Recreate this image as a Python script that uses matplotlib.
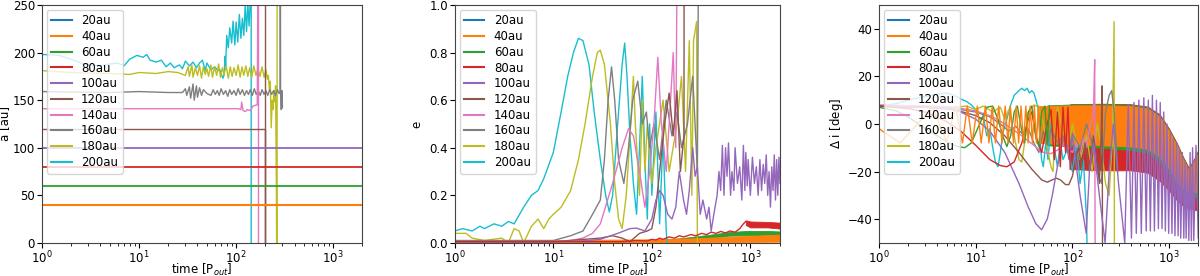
import matplotlib
matplotlib.use("Agg")
import matplotlib.pyplot as plt

labels = ["20au", "40au", "60au", "80au", "100au", "120au", "140au", "160au", "180au", "200au"]
colors = ["C0", "C1", "C2", "C3", "C4", "C5", "C6", "C7", "C8", "C9"]

# ---------------- panel 1: semi-major axis a [au] ----------------
a_t40 = [1, 2000]
a_40 = [40, 40]
a_t60 = [1, 2000]
a_60 = [60, 60]
a_t80 = [1, 2000]
a_80 = [80, 80]
a_t100 = [1, 2000]
a_100 = [100, 100]
a_t120 = [1, 200, 200, 200]
a_120 = [120, 120, -100, 400]
a_t140 = [1, 105, 112, 114, 118, 125, 130, 140, 150, 165, 170, 170]
a_140 = [141, 141, 140, 148, 139, 138, 140, 139, 144, 145, 400, -100]
a_t160 = [1, 5, 10, 20, 28, 30, 31, 33, 34, 36, 37, 39, 40, 42, 44, 46, 50, 55, 58, 61, 64, 67,
          70, 74, 78, 82, 86, 90, 95, 100, 105, 110, 116, 122, 128, 134, 140, 147, 154, 161,
          169, 177, 185, 194, 203, 212, 222, 232, 243, 254, 266, 278, 284, 285, 287, 292, 296, 300]
a_160 = [159, 158, 159, 158, 158, 162, 155, 164, 152, 167, 150, 165, 153, 163, 155, 161, 157, 155,
         161, 156, 160, 155, 162, 156, 160, 154, 161, 156, 160, 155, 162, 156, 161, 155, 160, 156,
         161, 155, 162, 156, 160, 155, 161, 156, 160, 155, 161, 156, 160, 155, 161, 157, 158, 400,
         158, 140, 160, 142]
a_t180 = [1, 2, 5, 8, 10, 15, 20, 25, 30, 32, 33, 35, 36, 38, 40, 42, 44, 46, 48, 50, 52, 55, 57,
          60, 63, 66, 69, 72, 75, 79, 83, 87, 91, 95, 100, 105, 110, 115, 120, 126, 132, 138, 145,
          152, 160, 168, 176, 185, 194, 203, 210, 215, 220, 225, 230, 235, 240, 245, 250, 255, 260,
          264, 265]
a_180 = [181, 179, 178, 177, 179, 178, 180, 179, 176, 185, 175, 187, 174, 184, 176, 186, 173, 185,
         177, 183, 175, 187, 174, 185, 176, 188, 174, 184, 177, 186, 173, 185, 175, 184, 176, 187,
         174, 185, 176, 186, 175, 184, 174, 186, 176, 183, 175, 185, 174, 182, 172, 176, 160, 170,
         121, 150, 140, 160, 148, 165, 55, -100, 400]
a_t200 = [1, 1.5, 2, 2.5, 3, 4, 5, 6, 7, 8, 9.5, 11, 12, 13, 15, 17, 19, 21, 23, 26, 28, 30, 33, 36, 39,
          42, 45, 48, 50, 55, 60, 65, 68, 73, 75, 77, 78, 80, 83, 86, 90, 93, 97, 100, 104, 108, 112,
          116, 120, 124, 128, 132, 136, 140, 143, 143]
a_200 = [198, 197, 193, 189, 187, 186, 188, 189, 186, 193, 197, 195, 198, 192, 190, 192, 185, 189, 184,
         187, 183, 191, 186, 190, 184, 189, 192, 181, 189, 182, 185, 181, 182, 173, 176, 196, 186, 218,
         205, 226, 210, 233, 208, 232, 211, 240, 215, 236, 218, 250, 222, 252, 228, 255, 400, -100]

# ---------------- panel 2: eccentricity e ----------------
e_t40 = [1, 10, 100, 300, 1000, 2000]
e_40_lo = [0.0, 0.0, 0.0, 0.002, 0.004, 0.005]
e_40_hi = [0.012, 0.012, 0.015, 0.02, 0.03, 0.035]
e_t60 = [1, 100, 200, 400, 600, 900, 1500, 2000]
e_60_lo = [0.002, 0.003, 0.01, 0.02, 0.03, 0.032, 0.03, 0.03]
e_60_hi = [0.006, 0.01, 0.02, 0.035, 0.045, 0.05, 0.05, 0.048]
e_t80 = [1, 50, 70, 90, 100, 110, 120, 130, 150, 170, 190, 210, 250, 280, 320, 360, 400, 450,
         500, 560, 620, 700, 780, 850, 900]
e_80 = [0.005, 0.005, 0.01, 0.008, 0.015, 0.012, 0.02, 0.015, 0.025, 0.02, 0.03, 0.025, 0.035,
        0.03, 0.04, 0.035, 0.045, 0.04, 0.048, 0.042, 0.05, 0.045, 0.06, 0.08, 0.09]
e_t80_band = [900, 1000, 1500, 2000]
e_80_lo = [0.075, 0.065, 0.065, 0.06]
e_80_hi = [0.095, 0.09, 0.088, 0.085]
e_t100 = [1, 10, 20, 30, 45, 60, 70, 85, 100, 110, 120, 130, 145, 160, 175, 190, 210, 225, 240,
          260, 275, 290, 310, 330, 360, 380, 400, 430, 460, 480, 500, 520, 540, 560, 580, 600,
          630, 650, 680, 700, 740, 780, 820, 850, 880, 900, 930, 950, 1000, 1050, 1100, 1150,
          1200, 1250, 1300, 1350, 1400, 1450, 1500, 1550, 1600, 1650, 1700, 1750, 1800, 1850,
          1900, 1950, 2000]
e_100 = [0.005, 0.005, 0.008, 0.015, 0.04, 0.06, 0.062, 0.05, 0.1, 0.18, 0.22, 0.2, 0.12, 0.1,
         0.15, 0.3, 0.18, 0.12, 0.22, 0.4, 0.28, 0.32, 0.12, 0.18, 0.1, 0.15, 0.05, 0.13, 0.2,
         0.3, 0.22, 0.41, 0.2, 0.4, 0.28, 0.42, 0.2, 0.3, 0.22, 0.4, 0.25, 0.32, 0.18, 0.41,
         0.22, 0.38, 0.24, 0.35, 0.2, 0.36, 0.25, 0.32, 0.2, 0.35, 0.22, 0.33, 0.25, 0.37, 0.2,
         0.3, 0.15, 0.32, 0.22, 0.37, 0.18, 0.35, 0.2, 0.36, 0.25]
e_t120 = [1, 10, 30, 40, 50, 60, 75, 90, 100, 110, 120, 135, 150, 165, 180, 195, 212, 213]
e_120 = [0.005, 0.005, 0.02, 0.03, 0.02, 0.005, 0.04, 0.05, 0.06, 0.15, 0.3, 0.5, 0.63, 0.45,
         0.64, 0.3, 0.45, 1.5]
e_t140 = [1, 10, 15, 20, 25, 30, 40, 50, 58, 65, 75, 85, 95, 105, 115, 125, 140, 155, 165, 175, 183]
e_140 = [0.005, 0.005, 0.01, 0.02, 0.04, 0.08, 0.25, 0.4, 0.48, 0.45, 0.3, 0.15, 0.3, 0.5, 0.78,
         0.5, 0.3, 0.6, 0.8, 0.4, 1.5]
e_t160 = [1, 10, 15, 20, 25, 30, 33, 36, 39, 42, 46, 52, 58, 64, 72, 80, 88, 95, 105, 120, 140,
          160, 180, 200, 230, 260, 290, 300]
e_160 = [0.01, 0.01, 0.03, 0.05, 0.12, 0.18, 0.35, 0.6, 0.74, 0.6, 0.35, 0.25, 0.4, 0.6, 0.68,
         0.5, 0.55, 0.4, 0.5, 0.35, 0.6, 0.45, 0.55, 0.4, 0.5, 0.7, 0.3, 1.5]
e_t180 = [1, 1.3, 1.5, 2, 3, 3.5, 4, 4.5, 5, 6, 7, 8, 9, 10, 12, 15, 18, 21, 25, 28, 30, 33, 38,
          42, 46, 50, 55, 60, 65, 68, 75, 80, 85, 90, 100, 110, 130, 150, 180, 200, 220, 240,
          255, 265, 285, 290]
e_180 = [0.04, 0.04, 0.02, 0.01, 0.02, 0.0, 0.06, 0.05, 0.0, 0.07, 0.1, 0.06, 0.1, 0.12, 0.15,
         0.22, 0.35, 0.5, 0.7, 0.8, 0.81, 0.75, 0.5, 0.25, 0.1, 0.06, 0.2, 0.45, 0.7, 0.5, 0.2,
         0.6, 0.3, 0.5, 0.25, 0.4, 0.6, 0.3, 0.5, 0.7, 0.3, 0.85, 0.2, 0.85, 0.93, 0.0]
e_t200 = [1, 1.2, 1.5, 1.8, 2, 2.5, 3, 3.5, 4, 5, 6, 7, 8, 10, 12, 14, 16, 18, 20, 23, 26, 30,
          34, 37, 40, 45, 50, 53, 56, 60, 65, 70, 75, 80, 85, 90, 95, 100, 110, 120, 130, 140, 143]
e_200 = [0.05, 0.06, 0.05, 0.07, 0.06, 0.08, 0.07, 0.09, 0.08, 0.15, 0.2, 0.22, 0.27, 0.38, 0.55,
         0.7, 0.8, 0.86, 0.85, 0.75, 0.55, 0.35, 0.2, 0.13, 0.2, 0.5, 0.75, 0.84, 0.7, 0.45, 0.25,
         0.12, 0.4, 0.7, 0.35, 0.1, 0.5, 0.2, 0.55, 0.08, 0.45, 0.05, 0.0]

# ---------------- panel 3: inclination change di [deg] ----------------
i_t40 = [1, 1.65, 3.6, 5.0, 6.2, 7.3, 8.2, 9.2, 10.4, 11.4, 12.6, 13.7, 14.8, 16, 17.3, 18.7,
         20.2, 21.6, 22.8, 24.6, 26.3, 27.8, 29.4, 31.3, 33, 34.9, 36.6, 38.6, 40.4, 42.5, 44.5, 46.5]
i_40 = [-2, -8, 7, -7.5, 7.5, -8, 7.5, -8, 7.5, -8, 7.5, -8, 7.5, -8, 7.5, -8, 7.5, -8, 7.5, -8,
        7.5, -8, 7.5, -8, 7.5, -8, 7.5, -8, 7.5, -8, 7.5, -8]
i_t40_band = [45, 100, 200, 400, 600, 800, 1000, 1200, 1400, 1600, 1800, 2000]
i_40_hi = [7.5, 7.8, 7.8, 7.5, 6.5, 3, -3, -9, -15, -19.5, -16, -12]
i_40_lo = [-8, -8.5, -9, -9.5, -10.5, -14, -19, -24, -27.5, -29, -28.8, -28.5]
i_t60 = [1, 1.5, 2, 3, 4, 5, 6.5, 7.7, 9, 11, 13, 15, 17, 19, 21, 23, 25, 27, 29, 32, 35, 38,
         42, 45, 48, 52, 55, 58]
i_60 = [7, 5.5, 3, -2, -5, -7.5, -9.5, -10, -8, 0, 7, 7.5, 2, -5, -9.5, -5, 5, 7.5, 0, -8, 5,
        7.5, -6, -9.5, 5, 7.5, -8, 7.5]
i_t60_band = [55, 100, 200, 400, 600, 800, 1000, 1200, 1400, 1600, 1800, 2000]
i_60_hi = [7.8, 8.2, 8.2, 8, 7, 3.5, -2.5, -8.5, -14.5, -19, -15.5, -11.5]
i_60_lo = [-9, -9.5, -10, -11, -12, -16, -21, -26, -29.5, -31, -30.8, -30.5]
i_t80 = [1, 2, 3, 5, 7, 10, 14, 18, 21, 25, 30, 35, 38, 42, 48, 55, 60, 65, 70, 75, 80, 85, 90, 95]
i_80 = [7.5, 6.5, 5, 1, -3, -9, -15, -17.5, -18, -16, -8, 2, 5, -5, -12, 0, 6, -15, 5, -18, 7,
        -12, 7, -19]
i_t80_band = [95, 200, 400, 600, 800, 1000, 1200, 1400, 1600, 1800, 2000]
i_80_hi = [8.3, 8.5, 8.3, 7.3, 4, -2, -8, -14, -18.5, -15, -11]
i_80_lo = [-19, -19.5, -19.5, -20.5, -24, -28, -32, -34.5, -35.5, -36, -36.5]
i_t100 = [1, 3, 5, 7, 10, 14, 20, 28, 35, 42, 48, 55, 62, 70, 78, 85, 92, 100, 120, 139, 150,
          165, 190, 218, 240, 265, 300, 348, 378, 408, 433, 458, 487, 516, 548, 580, 610, 640,
          672, 705, 740, 775, 810, 845, 880, 915, 950, 990, 1030, 1070, 1110, 1150, 1195, 1240,
          1280, 1320, 1370, 1420, 1460, 1500, 1550, 1600, 1650, 1700, 1750, 1800, 1900, 2000]
i_100 = [7.5, 7, 6.5, 5, 2, -3, -12, -25, -35, -42, -44.5, -40, -30, -18, -8, -5, -15, -5, -30,
         -46, -20, -8, -30, -50, -20, 0, -25, -50, 8, -48, 9, -46, 10, -46, 11, -45, 10, -45, 12,
         -45, 10, -44, 9, -44, 5, -45, 0, -46, -3, -46, -6, -47, -8, -47, -10, -48, -12, -48,
         -16, -48, -18, -49, -12, -49, -10, -49, -9, -48]
i_t120 = [1, 3, 6, 10, 14, 20, 28, 38, 48, 55, 62, 68, 75, 85, 92, 100, 107, 115, 125, 135, 150,
          165, 180, 190, 198, 203, 205]
i_120 = [7.5, 7, 6, 3.5, 0.5, -5, -12, -19, -23.5, -24.5, -23.5, -22.8, -23.5, -25.5, -25.5, -22,
         -16, -10, -18, -8, -20, -5, -15, -25, -5, 16, -60]
i_t140 = [1, 3, 6, 10, 15, 20, 30, 40, 50, 60, 70, 80, 90, 100, 110, 120, 130, 140, 150, 160,
          166, 170, 172]
i_140 = [8, 7.5, 7, 5.5, 3, 0, -5, -9, -12, -12.5, -11, -9, -10, -12, -8, -13, -6, -10, -2, 2, 8,
         27, -60]
i_t160 = [1, 3, 6, 10, 14, 18, 22, 26, 30, 35, 40, 45, 50, 55, 60, 70, 80, 90, 100, 120, 140,
          160, 180, 200, 220, 240, 255, 270, 285, 295]
i_160 = [7.5, 7, 6.5, 5, 3, 0, -3, -1, -4, -2, -8, -12, -3, -9, -2, -8, -5, -12, -4, -10, 0, -8,
         -20, -25, 5, 12, 14, 5, -10, -20]
i_t180 = [1, 3, 6, 8, 10, 12, 15, 18, 20, 22, 25, 28, 30, 32, 35, 40, 45, 50, 55, 60, 63, 66, 70,
          80, 90, 100, 120, 140, 160, 180, 200, 220, 240, 260, 270, 272]
i_180 = [7.5, 7.5, 7, 7.5, 6, 7.5, 5, 7, 2, 6, -5, -15, -16, -8, 5, 8, 7, 0, -10, -18, -20, -5, 7,
         -3, -12, 0, -15, -5, -20, 0, -10, -25, -30, -5, 43, -60]
i_t200 = [1, 1.5, 2, 3, 4, 5, 6, 7, 8, 9, 10, 11, 12, 13, 14, 15, 16, 17, 18, 19, 21, 23, 25, 28,
          30, 32, 34, 36, 38, 40, 42, 44, 46, 48, 50, 53, 56, 60, 65, 70, 75, 80, 90, 100, 110,
          120, 130, 140, 143]
i_200 = [7.5, 8.5, 10, 11.5, 12.5, 13, 12, 10.5, 9.5, 8, 6, 2, 3, -5, -2, -10, -16, -18, -12,
         -4, 2, 8, 12, 14, 15, 14, 15, 13, 14, 13, 10, 7, -5, -15, -18, -8, -15, 0, -10, -18, -8,
         -15, -10, -20, -8, -25, -15, -40, -60]

lw = 1.0
fig = plt.figure(figsize=(12, 2.76), dpi=100)
ax1 = fig.add_axes([0.035, 0.12, 0.267, 0.862])
ax2 = fig.add_axes([0.379, 0.12, 0.271, 0.862])
ax3 = fig.add_axes([0.7325, 0.12, 0.266, 0.862])

# panel 1 (drawn from outer to inner orbit, inner one ends on top)
ax1.plot(a_t200, a_200, color="C9", lw=lw)
ax1.plot(a_t180, a_180, color="C8", lw=lw)
ax1.plot(a_t160, a_160, color="C7", lw=lw)
ax1.plot(a_t140, a_140, color="C6", lw=lw)
ax1.plot(a_t120, a_120, color="C5", lw=lw)
ax1.plot(a_t100, a_100, color="C4", lw=lw + 0.3)
ax1.plot(a_t80, a_80, color="C3", lw=lw + 0.3)
ax1.plot(a_t60, a_60, color="C2", lw=lw + 0.3)
ax1.plot(a_t40, a_40, color="C1", lw=lw + 0.5)
ax1.set_ylim(0, 250)
ax1.set_ylabel("a [au]", labelpad=1)

# panel 2
ax2.plot(e_t200, e_200, color="C9", lw=lw)
ax2.plot(e_t180, e_180, color="C8", lw=lw)
ax2.plot(e_t160, e_160, color="C7", lw=lw)
ax2.plot(e_t140, e_140, color="C6", lw=lw)
ax2.plot(e_t120, e_120, color="C5", lw=lw)
ax2.plot(e_t100, e_100, color="C4", lw=lw)
ax2.plot(e_t80, e_80, color="C3", lw=lw)
ax2.fill_between(e_t80_band, e_80_lo, e_80_hi, color="C3", lw=0.6)
ax2.fill_between(e_t60, e_60_lo, e_60_hi, color="C2", lw=0.6)
ax2.fill_between(e_t40, e_40_lo, e_40_hi, color="C1", lw=0.6)
ax2.set_ylim(0, 1.0)
ax2.set_ylabel("e", labelpad=4)

# panel 3
ax3.plot(i_t200, i_200, color="C9", lw=lw)
ax3.plot(i_t180, i_180, color="C8", lw=lw)
ax3.plot(i_t160, i_160, color="C7", lw=lw)
ax3.plot(i_t140, i_140, color="C6", lw=lw)
ax3.plot(i_t120, i_120, color="C5", lw=lw)
ax3.plot(i_t100, i_100, color="C4", lw=lw)
ax3.plot(i_t80, i_80, color="C3", lw=lw)
ax3.fill_between(i_t80_band, i_80_lo, i_80_hi, color="C3", lw=0.6)
ax3.plot(i_t60, i_60, color="C2", lw=lw)
ax3.fill_between(i_t60_band, i_60_lo, i_60_hi, color="C2", lw=0.6)
ax3.plot(i_t40, i_40, color="C1", lw=lw)
ax3.fill_between(i_t40_band, i_40_lo, i_40_hi, color="C1", lw=0.6)
ax3.set_ylim(-50, 50)
ax3.set_yticks([-40, -20, 0, 20, 40])
ax3.set_ylabel("$\\Delta$ i [deg]", labelpad=2)

for ax in (ax1, ax2, ax3):
    ax.set_xscale("log")
    ax.set_xlim(1, 2000)
    ax.set_xlabel("time [P$_{out}$]", fontsize=8.5, labelpad=-3)
    ax.yaxis.label.set_size(8.5)
    ax.tick_params(labelsize=8.5, pad=1.5)
    for s in ax.spines.values():
        s.set_color("#444444")
    # 20au has no data in any panel, it only appears in the legend
    hs = [plt.Line2D([], [], color=c, lw=1.5) for c in colors]
    ax.legend(hs, labels, loc="upper left", fontsize=8.5, labelspacing=0.23,
              handlelength=1.7, borderaxespad=0.4)

fig.savefig("out.png", dpi=100)
